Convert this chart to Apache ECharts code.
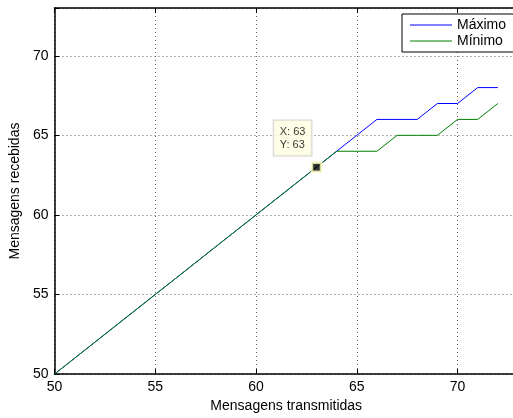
<!DOCTYPE html>
<html>
<head>
<meta charset="utf-8">
<script src="https://cdn.jsdelivr.net/npm/echarts@6/dist/echarts.min.js"></script>
<style>html,body{margin:0;padding:0;background:#fff;overflow:hidden;width:513px;height:418px;}#c{width:521px;height:418px;}</style>
</head>
<body>
<div id="c"></div>
<script>
var xValues = [50,51,52,53,54,55,56,57,58,59,60,61,62,63,64,65,66,67,68,69,70,71,72];
var maxValues = [50,51,52,53,54,55,56,57,58,59,60,61,62,63,64,65,66,66,66,67,67,68,68];
var minValues = [50,51,52,53,54,55,56,57,58,59,60,61,62,63,64,64,64,65,65,65,66,66,67];
var seriesNames = ['Máximo', 'Mínimo'];
var tipPoint = [63, 63];
var xTicks = [50,55,60,65,70];
var yTicks = [50,55,60,65,70];

var font = 'Liberation Sans, Arial, Helvetica, sans-serif';
function pairs(xs, ys){ return xs.map(function(x,i){ return [x, ys[i]]; }); }

var chart = echarts.init(document.getElementById('c'), null, {renderer:'canvas'});
var gridLine = {show:true, lineStyle:{color:'#666', width:1, type:[1,3]}};
var axisLineStyle = {show:true, onZero:false, lineStyle:{color:'#000', width:1.5}};
var tickStyle = {show:true, inside:true, length:5, lineStyle:{color:'#000', width:1}};
chart.setOption({
  animation:false,
  backgroundColor:'#fff',
  textStyle:{fontFamily:font},
  grid:{left:50.7, top:8, right:0, bottom:40, containLabel:false},
  xAxis:[{
    type:'value', min:50, max:73, interval:5,
    axisLine:axisLineStyle, axisTick:tickStyle,
    axisLabel:{color:'#000', fontSize:14, fontFamily:font, margin:6,
      formatter:function(v){ return xTicks.indexOf(v)>=0 ? String(v) : ''; }},
    splitLine:gridLine,
    name:'Mensagens transmitidas', nameLocation:'middle', nameGap:22,
    nameTextStyle:{color:'#000', fontSize:14, fontFamily:font}
  },{
    type:'value', min:50, max:73, interval:5, position:'top',
    axisLine:axisLineStyle, axisTick:tickStyle,
    axisLabel:{show:false}, splitLine:{show:false}
  }],
  yAxis:[{
    type:'value', min:50, max:73, interval:5,
    axisLine:axisLineStyle, axisTick:tickStyle,
    axisLabel:{color:'#000', fontSize:14, fontFamily:font, margin:6,
      formatter:function(v){ return yTicks.indexOf(v)>=0 ? String(v) : ''; }},
    splitLine:gridLine,
    name:'Mensagens recebidas', nameLocation:'middle', nameGap:24,
    nameTextStyle:{color:'#000', fontSize:14, fontFamily:font}
  },{
    type:'value', min:50, max:73, interval:5, position:'right',
    axisLine:axisLineStyle, axisTick:tickStyle,
    axisLabel:{show:false}, splitLine:{show:false}
  }],
  legend:{
    show:true, left:402, top:14, orient:'vertical',
    data:seriesNames.map(function(n){ return {name:n, icon:'rect'}; }),
    backgroundColor:'#fff', borderColor:'#000', borderWidth:1,
    padding:[4,24,4,8], itemGap:2, itemWidth:42, itemHeight:1,
    textStyle:{color:'#000', fontSize:14, fontFamily:font}
  },
  series:[{
    name:seriesNames[0], type:'line', data:pairs(xValues, maxValues),
    symbol:'none', lineStyle:{color:'#0000ff', width:1}, itemStyle:{color:'#0000ff'}, z:2
  },{
    name:seriesNames[1], type:'line', data:pairs(xValues, minValues),
    symbol:'none', lineStyle:{color:'#008000', width:1}, itemStyle:{color:'#008000'}, z:3
  },{
    name:'tip', type:'scatter', data:[tipPoint], symbol:'rect', symbolSize:9,
    itemStyle:{color:'#000', borderColor:'#ffffc0', borderWidth:2.5}, z:5,
    label:{show:true, position:[-37,-41], align:'left', verticalAlign:'top',
      formatter:'X: ' + tipPoint[0] + '\nY: ' + tipPoint[1],
      backgroundColor:'#ffffe1', borderColor:'#c8c8c8', borderWidth:1,
      padding:[5,6,4,6], lineHeight:13, color:'#000', fontSize:11, fontFamily:font}
  }]
});
</script>
</body>
</html>
